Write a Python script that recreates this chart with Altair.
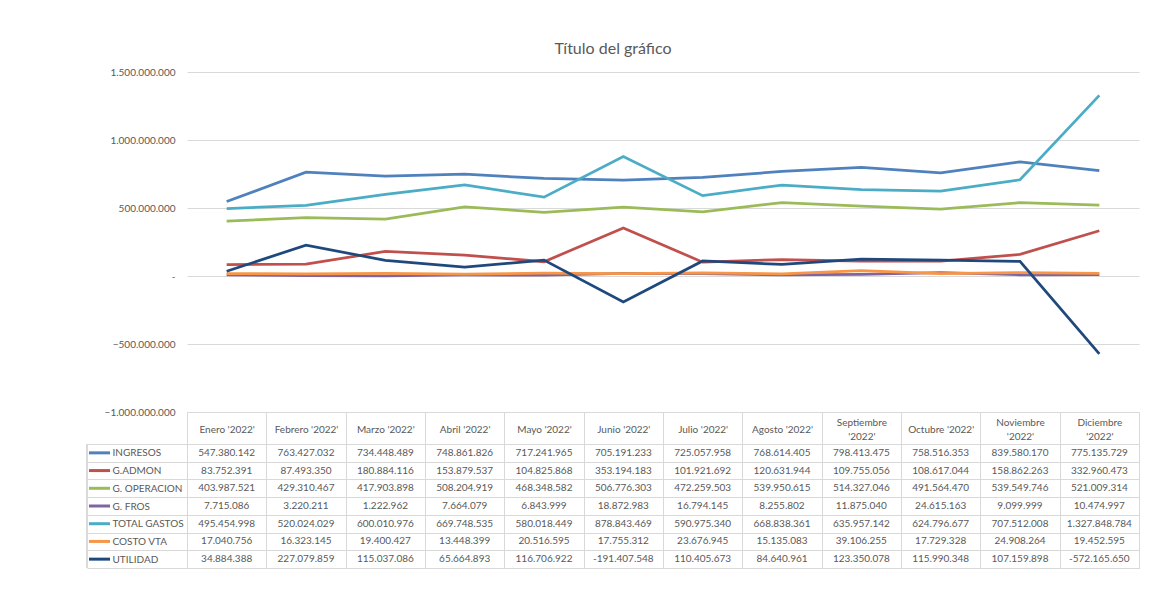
import altair as alt
import pandas as pd

months = ["Enero '2022'", "Febrero '2022'", "Marzo '2022'", "Abril '2022'", "Mayo '2022'",
          "Junio '2022'", "Julio '2022'", "Agosto '2022'", "Septiembre '2022'",
          "Octubre '2022'", "Noviembre '2022'", "Diciembre '2022'"]
series_names = ["INGRESOS", "G.ADMON", "G. OPERACION", "G. FROS", "TOTAL GASTOS", "COSTO VTA", "UTILIDAD"]

ingresos = [547380142, 763427032, 734448489, 748861826, 717241965, 705191233,
            725057958, 768614405, 798413475, 758516353, 839580170, 775135729]
g_admon = [83752391, 87493350, 180884116, 153879537, 104825868, 353194183,
           101921692, 120631944, 109755056, 108617044, 158862263, 332960473]
g_operacion = [403987521, 429310467, 417903898, 508204919, 468348582, 506776303,
               472259503, 539950615, 514327046, 491564470, 539549746, 521009314]
g_fros = [7715086, 3220211, 1222962, 7664079, 6843999, 18872983,
          16794145, 8255802, 11875040, 24615163, 9099999, 10474997]
total_gastos = [495454998, 520024029, 600010976, 669748535, 580018449, 878843469,
                590975340, 668838361, 635957142, 624796677, 707512008, 1327848784]
costo_vta = [17040756, 16323145, 19400427, 13448399, 20516595, 17755312,
             23676945, 15135083, 39106255, 17729328, 24908264, 19452595]
utilidad = [34884388, 227079859, 115037086, 65664893, 116706922, -191407548,
            110405673, 84640961, 123350078, 115990348, 107159898, -572165650]

series_values = [ingresos, g_admon, g_operacion, g_fros, total_gastos, costo_vta, utilidad]
colors = ["#4F81BD", "#C0504D", "#9BBB59", "#8064A2", "#4BACC6", "#F79646", "#1F497D"]

y_ticks = [-1000000000, -500000000, 0, 500000000, 1000000000, 1500000000]

rows = []
for si, (name, vals) in enumerate(zip(series_names, series_values)):
    for mi, (m, v) in enumerate(zip(months, vals)):
        rows.append({"serie": name, "month": m, "value": v, "order": si,
                     "label": f"{v:,}".replace(",", ".")})
df = pd.DataFrame(rows)
ser_df = pd.DataFrame({"serie": series_names})

W = 952
HDR = 32
FONT = "Lato"
GRAY = "#595959"
GRID = "#d9d9d9"

color_enc = alt.Color("serie:N", sort=series_names,
                      scale=alt.Scale(domain=series_names, range=colors), legend=None)

fmt = "replace(replace(replace(format(datum.value, ','), ',', '.'), ',', '.'), ',', '.')"

line = alt.Chart(df).mark_line(strokeWidth=2.75).encode(
    x=alt.X("month:N", sort=months, scale=alt.Scale(type="point", padding=0.5), axis=None),
    y=alt.Y("value:Q", scale=alt.Scale(domain=[-1000000000, 1500000000], nice=False, zero=False),
            axis=alt.Axis(values=y_ticks, title=None, domain=False, ticks=False,
                          gridColor=GRID, labelColor=GRAY, labelFontSize=10, labelFont=FONT,
                          labelPadding=12,
                          labelExpr="datum.value == 0 ? '-' : " + fmt)),
    color=color_enc,
    order=alt.Order("order:Q"),
).properties(width=W, height=340)

x_tab = alt.X("month:N", sort=months, scale=alt.Scale(paddingInner=0, paddingOuter=0),
              axis=alt.Axis(title=None, orient="top", grid=True, gridColor=GRID,
                            tickBand="extent", ticks=True, tickSize=HDR, tickColor=GRID,
                            domain=False, labelAngle=0, labelAlign="center",
                            labelBaseline="middle",
                            labelPadding={"condition": {"test": "length(datum.label) > 14", "value": -10},
                                          "value": -17},
                            labelColor=GRAY, labelFontSize=10, labelFont=FONT,
                            labelLineHeight=14,
                            labelExpr="length(datum.label) > 14 ? split(datum.label, ' ') : datum.label"))

y_tab = alt.Y("serie:N", sort=series_names, scale=alt.Scale(paddingInner=0, paddingOuter=0),
              axis=alt.Axis(title=None, grid=True, gridColor=GRID, tickBand="extent",
                            ticks=True, tickSize=100, tickColor=GRID, domain=False,
                            labelAlign="left", labelPadding=-25, labelColor=GRAY,
                            labelFontSize=10, labelFont=FONT))

cells = alt.Chart(df).mark_text(fontSize=10, color=GRAY, font=FONT).encode(
    x=x_tab, y=y_tab, text="label:N")

keys = alt.Chart(ser_df).mark_rule(strokeWidth=3).encode(
    x=alt.value(-98), x2=alt.value(-77),
    y=alt.Y("serie:N", sort=series_names, bandPosition=0.5,
            scale=alt.Scale(paddingInner=0, paddingOuter=0)),
    color=color_enc)

left_border = alt.Chart(ser_df).mark_rule(color=GRID, strokeWidth=1).encode(
    x=alt.value(-100), y=alt.value(0), y2=alt.value(124))

body = alt.layer(cells, keys, left_border).properties(
    width=W, height=124, view=alt.ViewBackground(stroke=GRID, strokeWidth=1))

chart = alt.vconcat(line, body, spacing=HDR, bounds="flush").properties(
    title=alt.TitleParams("Título del gráfico", fontSize=16, color=GRAY, font=FONT,
                          fontWeight="normal", anchor="middle", offset=10),
    padding={"left": 78, "top": 33, "right": 10, "bottom": 10},
    background="white",
).configure_view(strokeWidth=0)

chart.save("out.html", embed_options={"renderer": "svg", "actions": False})
